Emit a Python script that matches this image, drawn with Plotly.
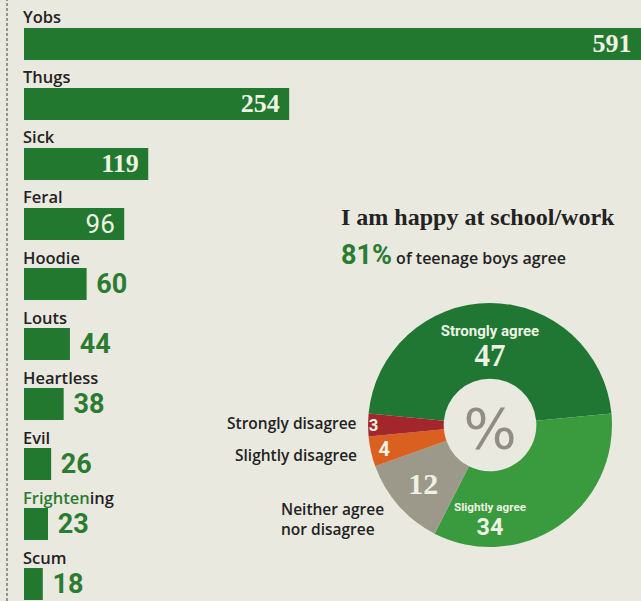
import plotly.graph_objects as go

# ---- data ----
words = ["Yobs", "Thugs", "Sick", "Feral", "Hoodie", "Louts", "Heartless",
         "Evil", "Frightening", "Scum"]
counts = [591, 254, 119, 96, 60, 44, 38, 26, 23, 18]

pie_labels = ["Strongly agree", "Slightly agree", "Neither agree nor disagree",
              "Slightly disagree", "Strongly disagree"]
pie_values = [47, 34, 12, 4, 3]

title_text = "I am happy at school/work"
headline_pct = "81%"
headline_rest = " of teenage boys agree"

# ---- styles ----
BG = "#e9e9e0"
BAR_GREEN = "#23782f"
NUM_GREEN = "#2b7c31"
CREAM = "#eef1e4"
DARK = "#232323"
SANS = "Open Sans"
pie_colors = ["#1f7733", "#399a3e", "#9c988a", "#d9601f", "#a2262b"]

n = len(words)
inside = [c >= 90 for c in counts]
positions = ["inside" if f else "outside" for f in inside]
texts = [f"{c}\u00a0" if f else f"\u00a0{c}" for c, f in zip(counts, inside)]
in_fam = ["Liberation Serif" if c > 100 else "Roboto" for c in counts]
in_wt = ["bold" if c > 100 else "normal" for c in counts]

fig = go.Figure()
fig.add_trace(go.Bar(
    x=counts, y=list(range(n)), orientation="h",
    marker=dict(color=BAR_GREEN, line=dict(width=0)),
    width=0.533,
    text=texts, textposition=positions, textangle=0,
    insidetextanchor="end", constraintext="none", cliponaxis=False,
    insidetextfont=dict(family=in_fam, size=26, color=CREAM, weight=in_wt),
    outsidetextfont=dict(family="Roboto", size=27, color=NUM_GREEN, weight="bold"),
    hoverinfo="skip", showlegend=False,
))

annotations = []
for i, w in enumerate(words):
    label = w
    if w == "Frightening":
        label = f"<span style='color:{NUM_GREEN}'>Frighten</span>ing"
    annotations.append(dict(
        x=0, y=i, xref="x", yref="y", text=label, showarrow=False,
        xanchor="left", yanchor="middle", yshift=27, xshift=-3,
        font=dict(family=SANS, size=16.5, color=DARK, weight=600),
    ))

# pie
lab = "<span style='font-size:15px;font-family:Roboto'><b>{}</b></span>"
pie_text = [
    lab.format("Strongly agree") + f"<br><span style='font-size:31px;font-family:Liberation Serif'><b>{pie_values[0]}</b></span>",
    lab.format("Slightly agree") + f"<br><span style='font-size:30px'>{pie_values[1]}</span>",
    f"<span style='font-family:Liberation Serif'><b>{pie_values[2]}</b></span>",
    f"{pie_values[3]}",
    f"{pie_values[4]}",
]
total = sum(pie_values)
rot = -pie_values[0] / total * 360 / 2
fig.add_trace(go.Pie(
    labels=pie_labels, values=pie_values, sort=False, direction="clockwise",
    rotation=rot, hole=0.38,
    domain=dict(x=[0.5741, 0.9548], y=[0.0899, 0.4958]),
    marker=dict(colors=pie_colors, line=dict(width=0)),
    text=pie_text, textinfo="text", textposition="inside",
    insidetextorientation="horizontal",
    textfont=dict(family="Roboto", size=[23, 23, 30, 20, 20], color=CREAM, weight="bold"),
    title=dict(text="%", position="middle center",
               font=dict(family="DejaVu Sans", size=56, color="#8f8d84")),
    hoverinfo="skip", showlegend=False,
))

annotations += [
    dict(x=339 / 641, y=(601 - 217) / 601, xref="paper", yref="paper",
         text=f"<b>{title_text}</b>", showarrow=False, xanchor="left", yanchor="middle",
         font=dict(family="Liberation Serif", size=24, color=DARK)),
    dict(x=339 / 641, y=(601 - 255) / 601, xref="paper", yref="paper",
         text=f"<span style='font-size:27px;color:{NUM_GREEN};font-family:Roboto'><b>{headline_pct}</b></span>{headline_rest}",
         showarrow=False, xanchor="left", yanchor="middle",
         font=dict(family=SANS, size=16, color=DARK, weight=600)),
    dict(x=359 / 641, y=(601 - 423) / 601, xref="paper", yref="paper",
         text=pie_labels[4], showarrow=False, xanchor="right", yanchor="middle",
         font=dict(family=SANS, size=15.5, color=DARK, weight=600)),
    dict(x=359 / 641, y=(601 - 455) / 601, xref="paper", yref="paper",
         text=pie_labels[3], showarrow=False, xanchor="right", yanchor="middle",
         font=dict(family=SANS, size=15.5, color=DARK, weight=600)),
    dict(x=279 / 641, y=(601 - 519) / 601, xref="paper", yref="paper",
         text="Neither agree<br>nor disagree", showarrow=False, align="left",
         xanchor="left", yanchor="middle",
         font=dict(family=SANS, size=15.5, color=DARK, weight=600)),
]

fig.update_layout(
    width=641, height=601,
    margin=dict(l=0, r=0, t=0, b=0),
    paper_bgcolor=BG, plot_bgcolor=BG,
    xaxis=dict(domain=[24 / 641, 1], range=[0, 591], visible=False, fixedrange=True),
    yaxis=dict(range=[9.283, -0.733], visible=False, fixedrange=True),
    annotations=annotations,
    shapes=[dict(type="line", xref="paper", yref="paper", x0=7 / 641, x1=7 / 641,
                 y0=0, y1=1, line=dict(color="#7a7a74", width=1.5, dash="3px,2px"))],
    showlegend=False,
)

fig.write_html("out.html")
